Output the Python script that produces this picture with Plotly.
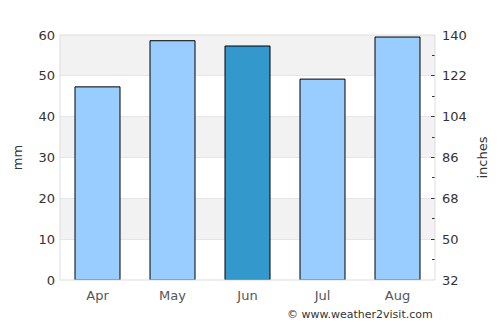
import plotly.graph_objects as go

months = ["Apr", "May", "Jun", "Jul", "Aug"]
rain_mm = [47.3, 58.6, 57.3, 49.2, 59.5]
bar_colors = ["#99ccff", "#99ccff", "#3399cc", "#99ccff", "#99ccff"]
left_ticks = [0, 10, 20, 30, 40, 50, 60]
right_ticks = [32, 50, 68, 86, 104, 122, 140]

fig = go.Figure()
fig.add_trace(go.Bar(
    x=months, y=rain_mm, marker=dict(color=bar_colors, line=dict(color="#000000", width=1)),
    width=0.6, hoverinfo="skip", showlegend=False,
))
# invisible trace to activate y2
fig.add_trace(go.Scatter(x=months, y=[None]*5, yaxis="y2", showlegend=False, hoverinfo="skip"))

shapes = []
for lo in [10, 30, 50]:
    shapes.append(dict(type="rect", xref="paper", yref="y", x0=0, x1=1, y0=lo, y1=lo + 10,
                       fillcolor="#f2f2f2", line=dict(width=0), layer="below"))
shapes.append(dict(type="rect", xref="paper", yref="paper", x0=0, x1=1, y0=0, y1=1,
                   line=dict(color="#dddddd", width=1), fillcolor="rgba(0,0,0,0)", layer="above"))

fig.update_layout(
    width=500, height=325,
    margin=dict(l=60, r=65, t=35, b=45),
    paper_bgcolor="white", plot_bgcolor="white",
    font=dict(family="DejaVu Sans", size=13, color="#333333"),
    bargap=0.4,
    shapes=shapes,
    xaxis=dict(tickfont=dict(color="#555555", size=13), showgrid=False, ticks="",
               showline=False, zeroline=False, fixedrange=True, ticklabelstandoff=6),
    yaxis=dict(range=[0, 60], tickvals=left_ticks, showgrid=True, gridcolor="#e6e6e6",
               gridwidth=1, zeroline=False, ticks="", ticklabelstandoff=4,
               title=dict(text="mm", font=dict(size=13, color="#333333"), standoff=12)),
    yaxis2=dict(range=[32, 140], tickvals=right_ticks, overlaying="y", side="right",
                showgrid=False, zeroline=False, ticks="inside", ticklen=4, tickcolor="#333333",
                minor=dict(dtick=9, tick0=32, ticks="inside", ticklen=3, tickcolor="#333333"),
                ticklabelstandoff=6,
                title=dict(text="inches", font=dict(size=13, color="#333333"), standoff=12)),
    annotations=[dict(text="© www.weather2visit.com", xref="paper", yref="paper",
                      x=1, y=-0.14, xanchor="right", yanchor="middle", showarrow=False,
                      font=dict(size=11, color="#333333"))],
)

fig.write_html("out.html")
